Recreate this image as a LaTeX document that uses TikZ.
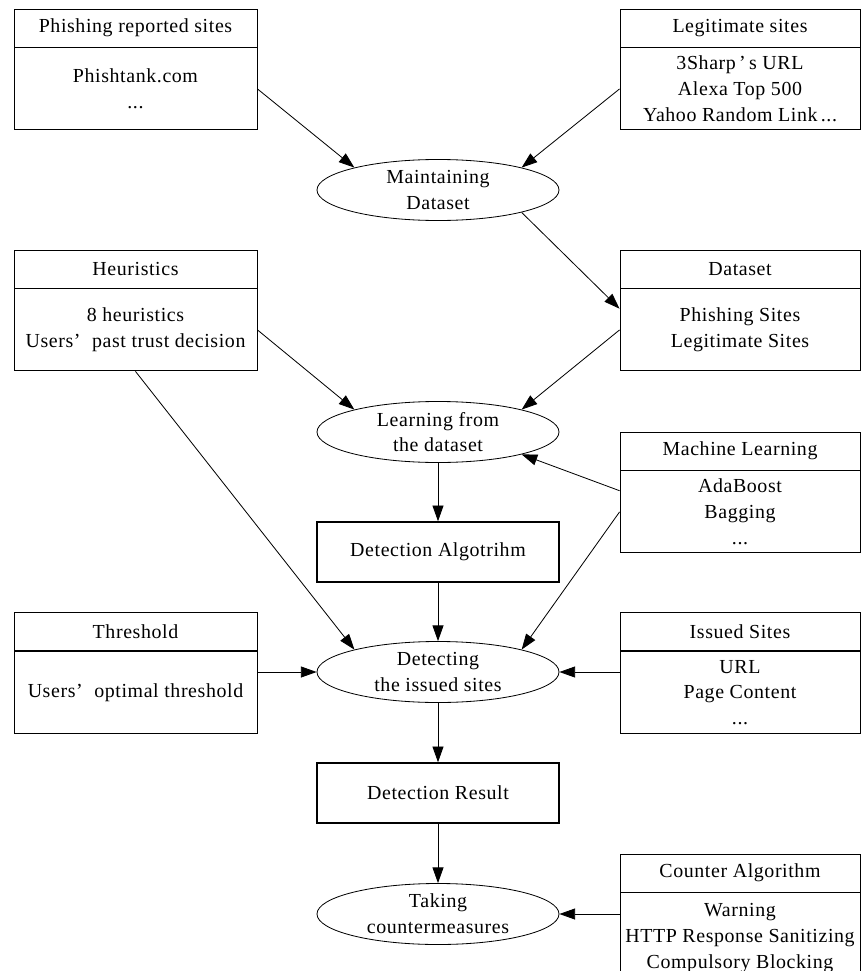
\documentclass[tikz,border=0pt]{standalone}
\usepackage{fontspec}
\setmainfont{Liberation Serif}[LetterSpace=3]
\usetikzlibrary{arrows.meta, positioning, shapes.geometric}

\newcommand{\dfont}{\fontsize{17}{22}\selectfont}

\tikzset{
  ttl/.style={draw, line width=0.8pt, minimum height=1.14cm, inner sep=0pt},
  bdy/.style={draw, line width=0.8pt, minimum height=2.46cm, inner sep=0pt, align=center},
  lft/.style={minimum width=7.29cm},
  rgt/.style={minimum width=7.2cm},
  stage/.style={draw, ellipse, line width=0.7pt, minimum width=7.26cm,
    minimum height=1.83cm, inner sep=-3pt, align=center},
  proc/.style={draw, line width=1.3pt, minimum width=7.26cm, minimum height=1.8cm},
  flow/.style={-{Triangle[length=0.47cm, width=0.33cm]}, line width=0.7pt},
}

\begin{document}
\begin{tikzpicture}[every node/.style={font=\dfont}]

  \useasboundingbox (0,0) rectangle (25.86,-29.13);
  \clip (0,0) rectangle (25.86,-29.13);

  % === Source boxes (title + body) ===
  \node[ttl, lft] (phish-t) at (4.065,-0.84) {Phishing reported sites};
  \node[bdy, lft, below=0pt of phish-t] (phish) {Phishtank.com\\...};

  \node[ttl, rgt] (legit-t) at (22.2,-0.84) {Legitimate sites};
  \node[bdy, rgt, below=0pt of legit-t] (legit)
    {3Sharp\,’\,s URL\\Alexa Top 500\\Yahoo Random Link\,...};

  \node[ttl, lft] (heur-t) at (4.065,-8.07) {Heuristics};
  \node[bdy, lft, below=0pt of heur-t] (heur)
    {8 heuristics\\Users’\hspace{0.3em} past trust decision};

  \node[ttl, rgt] (data-t) at (22.2,-8.07) {Dataset};
  \node[bdy, rgt, below=0pt of data-t] (data) {Phishing Sites\\Legitimate Sites};

  \node[ttl, rgt] (ml-t) at (22.2,-13.53) {Machine Learning};
  \node[bdy, rgt, below=0pt of ml-t] (ml) {AdaBoost\\Bagging\\...};

  \node[ttl, lft] (thresh-t) at (4.065,-18.945) {Threshold};
  \node[bdy, lft, below=0pt of thresh-t] (thresh)
    {Users’\hspace{0.3em} optimal threshold};

  \node[ttl, rgt] (issued-t) at (22.2,-18.945) {Issued Sites};
  \node[bdy, rgt, below=0pt of issued-t] (issued) {URL\\Page Content\\...};

  \node[ttl, rgt] (counter-t) at (22.2,-26.19) {Counter Algorithm};
  \node[bdy, rgt, minimum height=2.7cm, below=0pt of counter-t] (counter)
    {Warning\\HTTP Response Sanitizing\\Compulsory Blocking};

  % === Main column ===
  \node[stage] (maint) at (13.14,-5.7) {Maintaining\\Dataset};
  \node[stage] (learn) at (13.14,-12.96) {Learning from\\the dataset};
  \node[proc] (algo) at (13.14,-16.56) {Detection Algotrihm};
  \node[stage] (detect) at (13.14,-20.16) {Detecting\\the issued sites};
  \node[proc] (result) at (13.14,-23.79) {Detection Result};
  \node[stage] (take) at (13.14,-27.42) {Taking\\countermeasures};

  % === Connectors ===
  \draw[flow] (phish.east) -- (maint.165);
  \draw[flow] (legit.west) -- (maint.15);
  \draw[flow] (maint.-15) -- (data.170);
  \draw[flow] (heur.east) -- (learn.165);
  \draw[flow] (data.west) -- (learn.15);
  \draw[flow] (ml.170) -- (learn.-15);
  \draw[flow] (learn) -- (algo);
  \draw[flow] (heur.south) -- (detect.165);
  \draw[flow] (algo) -- (detect);
  \draw[flow] (ml.west) -- (detect.15);
  \draw[flow] (thresh.east |- detect.west) -- (detect.west);
  \draw[flow] (issued.west |- detect.east) -- (detect.east);
  \draw[flow] (detect) -- (result);
  \draw[flow] (result) -- (take);
  \draw[flow] (counter.west |- take.east) -- (take.east);

\end{tikzpicture}
\end{document}
